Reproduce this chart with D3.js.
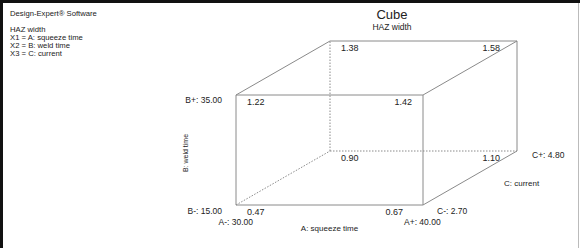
<!DOCTYPE html>
<html><head><meta charset="utf-8">
<script src="https://cdn.jsdelivr.net/npm/d3@7"></script>
<style>
html,body{margin:0;padding:0;background:#fff;}
svg{display:block;font-family:"Liberation Sans",Arial,sans-serif;}
</style></head>
<body>
<script>
// Data
const factorA = {name: "A: squeeze time", low: 30.00, high: 40.00};
const factorB = {name: "B: weld time", low: 15.00, high: 35.00};
const factorC = {name: "C: current", low: 2.70, high: 4.80};
// corner responses by coded level
const aLevels = [-1, 1, -1, 1, -1, 1, -1, 1];
const bLevels = [-1, -1, 1, 1, -1, -1, 1, 1];
const cLevels = [-1, -1, -1, -1, 1, 1, 1, 1];
const responses = [0.47, 0.67, 1.22, 1.42, 0.90, 1.10, 1.38, 1.58];
const infoLines = ["HAZ width", "X1 = A: squeeze time", "X2 = B: weld time", "X3 = C: current"];

const W = 580, H = 248;
const svg = d3.select("body").append("svg").attr("width", W).attr("height", H);

// frame
svg.append("rect").attr("x",0).attr("y",0).attr("width",W).attr("height",H).attr("fill","#fff");
svg.append("rect").attr("x",0).attr("y",0).attr("width",W).attr("height",3).attr("fill","#111");
svg.append("rect").attr("x",0).attr("y",0).attr("width",3).attr("height",H).attr("fill","#111");
svg.append("line").attr("x1",578.5).attr("x2",578.5).attr("y1",3).attr("y2",H).attr("stroke","#bbb").attr("stroke-width",1);

// scales
const xA = d3.scaleLinear().domain([-1,1]).range([236,423]);
const yB = d3.scaleLinear().domain([-1,1]).range([205,95]);
const dC = d3.scaleLinear().domain([-1,1]).range([0,1]);
const depthX = 94, depthY = -54;
const px = (a,c) => xA(a) + dC(c)*depthX;
const py = (b,c) => yB(b) + dC(c)*depthY;

const col = "#8a8a8a";
function edge(a1,b1,c1,a2,b2,c2,dotted){
  svg.append("line")
    .attr("x1",px(a1,c1)).attr("y1",py(b1,c1))
    .attr("x2",px(a2,c2)).attr("y2",py(b2,c2))
    .attr("stroke",col).attr("stroke-width",1)
    .attr("stroke-dasharray", dotted ? "1.5,1.5" : null);
}
// front face
edge(-1,-1,-1, 1,-1,-1);
edge(-1, 1,-1, 1, 1,-1);
edge(-1,-1,-1,-1, 1,-1);
edge( 1,-1,-1, 1, 1,-1);
// back face
edge(-1, 1, 1, 1, 1, 1);
edge( 1,-1, 1, 1, 1, 1);
edge(-1,-1, 1, 1,-1, 1, true);
edge(-1,-1, 1,-1, 1, 1, true);
// depth edges
edge(-1, 1,-1,-1, 1, 1);
edge( 1, 1,-1, 1, 1, 1);
edge( 1,-1,-1, 1,-1, 1);
edge(-1,-1,-1,-1,-1, 1, true);

const txt = "#222";
function label(x,y,s,size,anchor){
  return svg.append("text").attr("x",x).attr("y",y).attr("fill",txt)
    .attr("font-size",size).attr("text-anchor",anchor||"start").text(s);
}

// corner values
responses.forEach((v,i)=>{
  const a=aLevels[i], b=bLevels[i], c=cLevels[i];
  let dx;
  if (a<0) dx = 11;
  else if (c>0) dx = -17;
  else if (b<0) dx = -20;
  else dx = -11;
  const y = py(b,c) + 9.5;
  label(px(a,c) + dx, y, v.toFixed(2), 9, a<0 ? "start" : "end");
});

// factor level labels
const f2 = d3.format(".2f");
label(xA(-1)-14, yB(1)+8, "B+: " + f2(factorB.high), 8.5, "end");
label(xA(-1)-14, yB(-1)+8.5, "B-: " + f2(factorB.low), 8.5, "end");
label(xA(-1)+17, yB(-1)+19.5, "A-: " + f2(factorA.low), 8.5, "end");
label(xA(1)-19, yB(-1)+19.5, "A+: " + f2(factorA.high), 8.5, "start");
label(xA(1)+14, yB(-1)+8.5, "C-: " + f2(factorC.low), 8.5, "start");
label(px(1,1)+15, py(-1,1)+7, "C+: " + f2(factorC.high), 8.5, "start");

// axis names
label((xA(-1)+xA(1))/2, yB(-1)+25.5, factorA.name, 8, "middle");
label(px(1,0)+34, py(-1,0)+8, factorC.name, 8, "start");
svg.append("text").attr("transform",`translate(${xA(-1)-48},${(yB(-1)+yB(1))/2+3}) rotate(-90)`)
  .attr("fill",txt).attr("font-size",7).attr("text-anchor","middle").text(factorB.name);

// title
label(392, 19, "Cube", 13, "middle");
label(392, 30, "HAZ width", 8.5, "middle");

// info block
label(10, 16, "Design-Expert\u00AE Software", 7.7, "start");
infoLines.forEach((s,i)=> label(10, 32 + i*8, s, 7.7, "start"));
</script>
</body></html>
